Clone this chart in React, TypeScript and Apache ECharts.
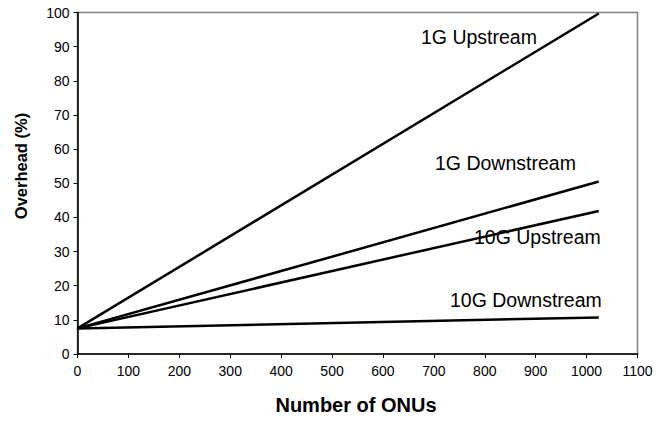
import React, { useEffect, useRef } from "react";
import * as echarts from "echarts";

const onus = [0, 1024];
const up1G = [7.5, 99.7];
const down1G = [7.5, 50.5];
const up10G = [7.5, 41.9];
const down10G = [7.5, 10.7];
const seriesNames = ["1G Upstream", "1G Downstream", "10G Upstream", "10G Downstream"];
const xTitle = "Number of ONUs";
const yTitle = "Overhead (%)";

const FONT = "Arial, 'Liberation Sans', sans-serif";

export default function App() {
  const ref = useRef<HTMLDivElement>(null);
  useEffect(() => {
    if (!ref.current) return;
    const chart = echarts.init(ref.current, null, { renderer: "svg" });
    const all = [up1G, down1G, up10G, down10G];
    const labelPos = [
      [421, 37],
      [435, 163],
      [474, 237],
      [450, 300],
    ];
    chart.setOption({
      animation: false,
      backgroundColor: "#fff",
      grid: {
        left: 77.5,
        right: 30.5,
        top: 12.5,
        bottom: 67,
        show: true,
        borderColor: "#808080",
        borderWidth: 1.5,
        backgroundColor: "transparent",
      },
      xAxis: {
        type: "value",
        min: 0,
        max: 1100,
        interval: 100,
        axisLine: { show: true, onZero: false, lineStyle: { color: "#000", width: 1.5 } },
        axisTick: { show: true, length: 4, lineStyle: { color: "#000" } },
        splitLine: { show: false },
        axisLabel: {
          color: "#000",
          fontSize: 14,
          fontFamily: FONT,
          margin: 10,
          formatter: (v: number) => String(v),
        },
      },
      yAxis: {
        type: "value",
        min: 0,
        max: 100,
        interval: 10,
        axisLine: { show: true, onZero: false, lineStyle: { color: "#000", width: 1.5 } },
        axisTick: { show: true, length: 4, lineStyle: { color: "#000" } },
        splitLine: { show: false },
        axisLabel: {
          color: "#000",
          fontSize: 14,
          fontFamily: FONT,
          margin: 8,
          formatter: (v: number) => String(v),
        },
      },
      series: all.map((vals, i) => ({
        type: "line",
        name: seriesNames[i],
        data: onus.map((x, j) => [x, vals[j]]),
        symbol: "none",
        lineStyle: { color: "#000", width: 2.5 },
        z: 3,
      })),
      graphic: [
        ...seriesNames.map((name, i) => ({
          type: "text",
          x: labelPos[i][0],
          y: labelPos[i][1],
          z: 100,
          style: {
            text: name,
            fill: "#000",
            font: `19.5px ${FONT}`,
            textAlign: "left",
            textVerticalAlign: "middle",
          },
        })),
        {
          type: "text",
          x: 356,
          y: 405,
          style: {
            text: xTitle,
            fill: "#000",
            font: `bold 20px ${FONT}`,
            textAlign: "center",
            textVerticalAlign: "middle",
          },
        },
        {
          type: "text",
          x: 21,
          y: 166,
          rotation: Math.PI / 2,
          style: {
            text: yTitle,
            fill: "#000",
            font: `bold 16.5px ${FONT}`,
            textAlign: "center",
            textVerticalAlign: "middle",
          },
        },
      ],
    });
    return () => chart.dispose();
  }, []);
  return <div ref={ref} style={{ width: 668, height: 421, position: "absolute", left: 0, top: 0 }} />;
}
